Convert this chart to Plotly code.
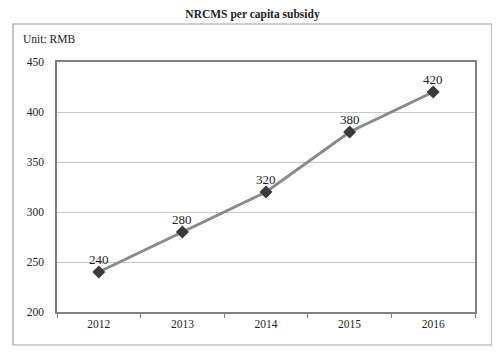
import plotly.graph_objects as go

years = ["2012", "2013", "2014", "2015", "2016"]
subsidy = [240, 280, 320, 380, 420]
y_ticks = [200, 250, 300, 350, 400, 450]

# page offset of the plot div (browser body margin)
OFF = 8
W, H = 500, 358
# plot area in page pixels: x 57..475, y 62..312
L, R, T, B = 57 - OFF, W - (475 - OFF), 62 - OFF, H - (312 - OFF)
pw, ph = W - L - R, H - T - B

def px_x(p):
    return (p - OFF - L) / pw

def px_y(p):
    return (H - B - (p - OFF)) / ph

fig = go.Figure()
fig.add_trace(go.Scatter(
    x=years, y=subsidy, mode="lines+markers",
    line=dict(color="#8a8a8a", width=3),
    marker=dict(symbol="diamond", size=10, color="#3a3a3a"),
    cliponaxis=False, showlegend=False,
))

# value labels, positioned at each category's index on the category axis
label_annos = [dict(x=i, y=yv, text=str(yv), xref="x", yref="y", showarrow=False,
                    yshift=13, xanchor="center", yanchor="middle",
                    font=dict(family="Liberation Serif", size=13, color="#222"))
               for i, yv in enumerate(subsidy)]

fig.update_layout(
    width=W, height=H,
    margin=dict(l=L, r=R, t=T, b=B),
    paper_bgcolor="white", plot_bgcolor="white",
    font=dict(family="Liberation Serif", size=11, color="#222"),
    title=dict(text="<b>NRCMS per capita subsidy</b>", x=px_x(252.5), xref="paper",
               xanchor="center", y=1 - 6 / H, yanchor="middle", font=dict(size=11.5)),
    xaxis=dict(type="category", range=[-0.5, 4.5], tickson="boundaries",
               ticks="outside", ticklen=4,
               tickcolor="#808080", showline=True, linecolor="#808080", linewidth=1.5,
               mirror=True, showgrid=False, tickfont=dict(size=11.5)),
    yaxis=dict(range=[200, 450], tickvals=y_ticks, ticks="", showline=True,
               linecolor="#808080", linewidth=1.5, mirror=True,
               showgrid=True, gridcolor="#c8c8c8", gridwidth=1, zeroline=False,
               tickfont=dict(size=11.5), ticklabelstandoff=9),
    shapes=[dict(type="rect", xref="paper", yref="paper",
                 x0=px_x(13), x1=px_x(492), y0=px_y(345), y1=px_y(24),
                 line=dict(color="#a0a0a0", width=1.2), layer="below")],
    annotations=label_annos + [dict(text="Unit: RMB", xref="paper", yref="paper",
                      x=px_x(21), y=px_y(39), xanchor="left", yanchor="middle",
                      showarrow=False, font=dict(size=11.5))],
)

fig.write_html("out.html")
